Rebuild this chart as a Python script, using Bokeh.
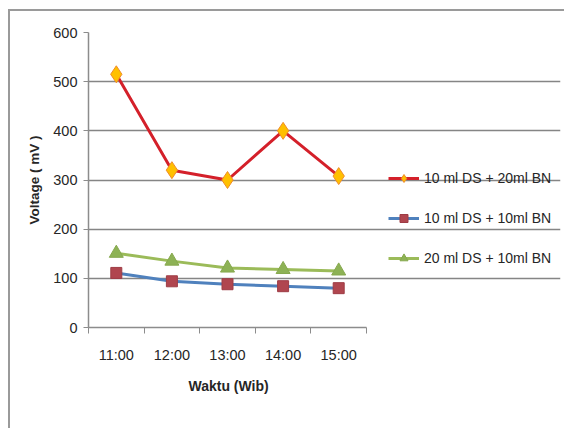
from bokeh.plotting import figure
from bokeh.models import Range1d, FixedTicker, Legend, LegendItem
from bokeh.embed import file_html
from bokeh.resources import INLINE

categories = ["11:00", "12:00", "13:00", "14:00", "15:00"]
s1_name = "10 ml DS + 20ml BN"
s1 = [515, 320, 300, 400, 308]
s2_name = "10 ml DS + 10ml BN"
s2 = [111, 94, 88, 84, 80]
s3_name = "20 ml DS + 10ml BN"
s3 = [151, 135, 121, 118, 115]
y_ticks = [0, 100, 200, 300, 400, 500, 600]

FONT = "Liberation Sans, Arial, sans-serif"
TXT = "#262626"

n = len(categories)
xs = [i + 0.5 for i in range(n)]

# frame spans the legend area too; axis and grid are bounded to the category span
FRAME_LEFT, FRAME_RIGHT = 88, 560
PLOT_RIGHT = 366
x_end = n * (FRAME_RIGHT - FRAME_LEFT) / (PLOT_RIGHT - FRAME_LEFT)

p = figure(width=564, height=428, output_backend="svg", toolbar_location=None,
           x_range=Range1d(0, x_end), y_range=Range1d(0, 600),
           min_border_left=FRAME_LEFT, min_border_right=564 - FRAME_RIGHT,
           min_border_top=32, min_border_bottom=101,
           title="Waktu (Wib)", title_location="below")
p.background_fill_color = None
p.border_fill_color = None
p.outline_line_color = None
p.styles = {
    "background": "linear-gradient(#9a9a9a,#9a9a9a) 8px 9px / 100% 2px no-repeat, "
                  "linear-gradient(#9a9a9a,#9a9a9a) 8px 9px / 2px 100% no-repeat, white"
}

# x-axis title, centred under the category span
p.title.align = "left"
p.title.offset = 100
p.title.standoff = 20
p.title.text_font = FONT
p.title.text_font_style = "bold"
p.title.text_font_size = "14px"
p.title.text_color = TXT

# x axis: labels at category centres, tick marks at category boundaries
p.xaxis.bounds = (0, n)
p.xaxis.ticker = FixedTicker(ticks=xs, minor_ticks=list(range(n + 1)))
p.xaxis.major_label_overrides = {x: c for x, c in zip(xs, categories)}
p.xaxis.major_tick_line_color = None
p.xaxis.minor_tick_line_color = "#8c8c8c"
p.xaxis.minor_tick_out = 6
p.xaxis.minor_tick_in = 0
p.xaxis.axis_line_color = "#8c8c8c"
p.xaxis.axis_line_width = 1.5
p.xaxis.major_label_text_font = FONT
p.xaxis.major_label_text_font_size = "14.5px"
p.xaxis.major_label_text_color = TXT
p.xaxis.major_label_standoff = 13

p.yaxis.ticker = FixedTicker(ticks=y_ticks)
p.yaxis.minor_tick_line_color = None
p.yaxis.major_tick_line_color = "#8c8c8c"
p.yaxis.major_tick_out = 5
p.yaxis.major_tick_in = 0
p.yaxis.axis_line_color = "#8c8c8c"
p.yaxis.axis_line_width = 1.5
p.yaxis.axis_label = "Voltage ( mV )"
p.yaxis.axis_label_text_font = FONT
p.yaxis.axis_label_text_font_style = "bold"
p.yaxis.axis_label_text_font_size = "13.5px"
p.yaxis.axis_label_text_color = TXT
p.yaxis.major_label_text_font = FONT
p.yaxis.major_label_text_font_size = "14.5px"
p.yaxis.major_label_text_color = TXT
p.yaxis.major_label_standoff = 6
p.yaxis.axis_label_standoff = 8

p.xgrid.grid_line_color = None
p.ygrid.ticker = FixedTicker(ticks=y_ticks[1:])
p.ygrid.bounds = (0, n)
p.ygrid.grid_line_color = "#858585"
p.ygrid.grid_line_width = 1.5

# series
l1 = p.line(xs, s1, line_color="#D4202A", line_width=3)
m1 = p.scatter(xs, s1, marker="diamond", size=17, fill_color="#FFC000", line_color="#F08C2A", line_width=1)
l2 = p.line(xs, s2, line_color="#4F81BD", line_width=3)
m2 = p.scatter(xs, s2, marker="square", size=11, fill_color="#B0464F", line_color="#9E3C45")
l3 = p.line(xs, s3, line_color="#9BBB59", line_width=3)
m3 = p.scatter(xs, s3, marker="triangle", size=14, fill_color="#8DB255", line_color="#86A84E")

legend = Legend(items=[LegendItem(label=s1_name, renderers=[l1, m1]),
                       LegendItem(label=s2_name, renderers=[l2, m2]),
                       LegendItem(label=s3_name, renderers=[l3, m3])],
                location=(388 - FRAME_LEFT, 59), orientation="vertical",
                label_text_font=FONT, label_text_font_size="14px", label_text_color=TXT,
                glyph_width=31, glyph_height=20, label_height=20, spacing=20,
                padding=0, margin=0, border_line_color=None,
                background_fill_alpha=0, label_standoff=5)
p.add_layout(legend, "center")

open("out.html", "w").write(file_html(p, INLINE))
